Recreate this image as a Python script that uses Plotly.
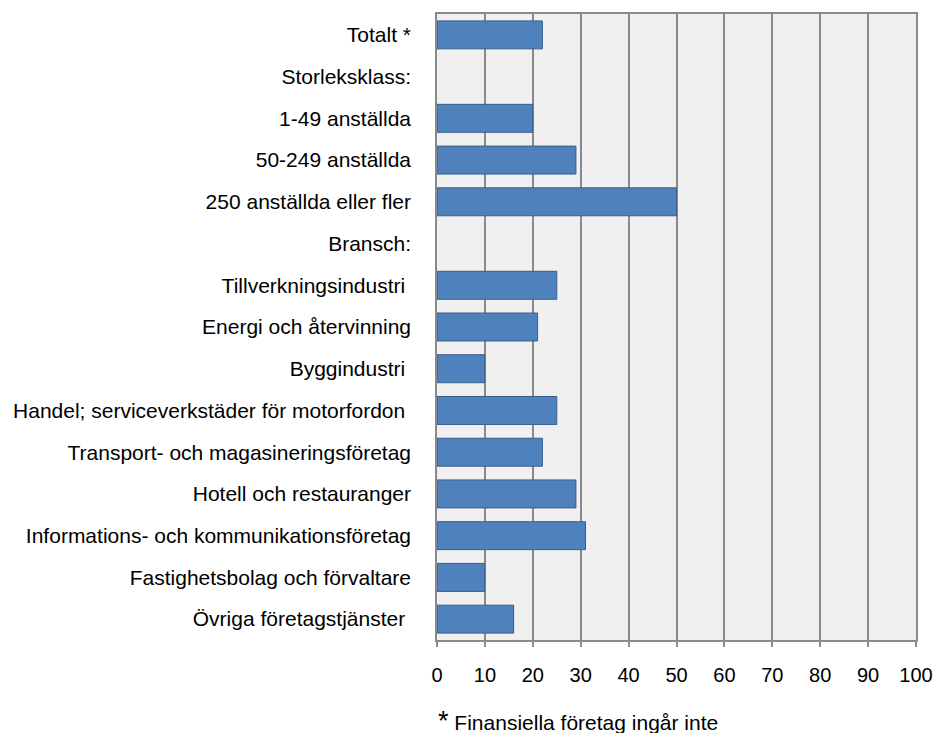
import plotly.graph_objects as go

categories = [
    "Totalt *",
    "Storleksklass:",
    "1-49 anställda",
    "50-249 anställda",
    "250 anställda eller fler",
    "Bransch:",
    "Tillverkningsindustri\u00a0",
    "Energi och återvinning",
    "Byggindustri\u00a0",
    "Handel; serviceverkstäder för motorfordon\u00a0",
    "Transport- och magasineringsföretag",
    "Hotell och restauranger",
    "Informations- och kommunikationsföretag",
    "Fastighetsbolag och förvaltare",
    "Övriga företagstjänster\u00a0",
]
values = [22, None, 20, 29, 50, None, 25, 21, 10, 25, 22, 29, 31, 10, 16]
x_ticks = [0, 10, 20, 30, 40, 50, 60, 70, 80, 90, 100]
footnote = "Finansiella företag ingår inte"

font = "Liberation Sans, Arial, sans-serif"
grid = "#8a8a8a"

fig = go.Figure(
    go.Bar(
        y=categories,
        x=values,
        orientation="h",
        marker=dict(color="#4f81bd", line=dict(color="#385d8a", width=1)),
        hoverinfo="x+y",
    )
)

fig.update_layout(
    width=936,
    height=733,
    margin=dict(l=437, r=20, t=14, b=93),
    plot_bgcolor="#f0f0f0",
    paper_bgcolor="white",
    bargap=0.33,
    showlegend=False,
    font=dict(family=font, size=21, color="black"),
)

fig.update_xaxes(
    range=[0, 100],
    tickvals=x_ticks,
    ticktext=[str(v) for v in x_ticks],
    showgrid=True,
    gridcolor=grid,
    gridwidth=1.5,
    zeroline=False,
    showline=True,
    linecolor=grid,
    linewidth=1.5,
    mirror=True,
    ticks="outside",
    ticklen=5,
    tickcolor=grid,
    tickwidth=1.5,
    ticklabelstandoff=11,
    ticklabeloverflow="allow",
    automargin=False,
    tickfont=dict(size=20),
)

fig.update_yaxes(
    categoryorder="array",
    categoryarray=categories,
    autorange="reversed",
    showgrid=False,
    showline=True,
    linecolor=grid,
    linewidth=1.5,
    mirror=True,
    ticks="",
    ticklabelstandoff=20,
    automargin=False,
    tickfont=dict(size=21),
)

fig.add_annotation(
    xref="paper", yref="paper",
    x=0, y=-(721 - 640) / 626,
    xanchor="left", yanchor="middle",
    xshift=-1,
    text="<span style='font-size:27px'>*</span> " + footnote,
    showarrow=False,
    font=dict(family=font, size=21, color="black"),
)

fig.write_html(
    "out.html",
    config={"displayModeBar": False, "responsive": False},
    post_script="document.body.style.margin='0';document.documentElement.style.overflow='hidden';",
)
